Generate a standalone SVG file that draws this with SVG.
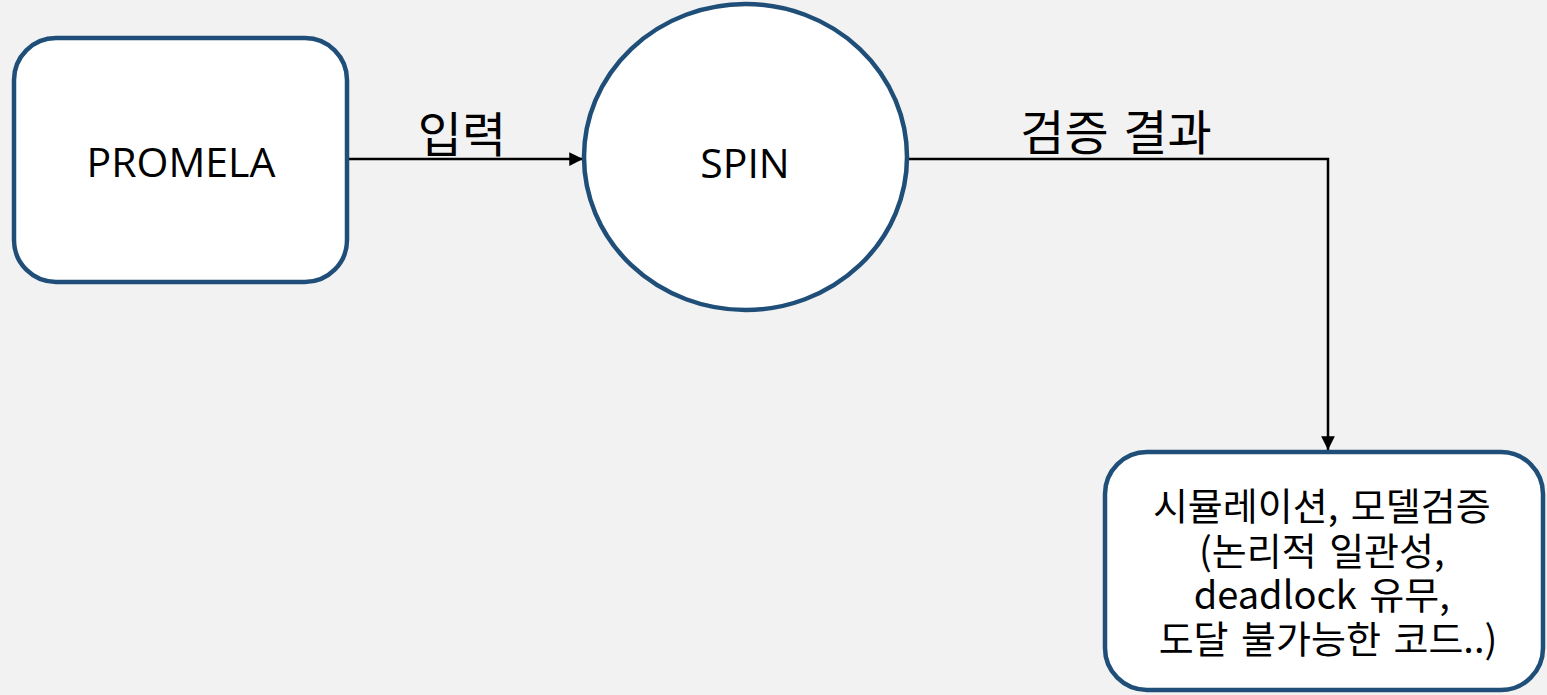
<svg xmlns="http://www.w3.org/2000/svg" width="1547" height="695" viewBox="0 0 1547 695">
<style>
.node{fill:#ffffff;stroke:#1f4e79;stroke-width:4.5}
.lbl{font-family:"Open Sans","Noto Sans CJK KR",sans-serif;fill:#000000;text-anchor:middle}
.kr{font-family:"Noto Sans CJK KR","Open Sans",sans-serif;fill:#000000;text-anchor:middle}
.edge{fill:none;stroke:#000000;stroke-width:2.5}
</style>
<defs>
<marker id="arr" viewBox="0 0 10 10" refX="10" refY="5" markerWidth="5.5" markerHeight="5.5" orient="auto" markerUnits="strokeWidth">
<path d="M0,0 L10,5 L0,10 Z" fill="#000000"/>
</marker>
</defs>
<rect width="1547" height="695" fill="#f2f2f2"/>
<g id="connectors">
<path class="edge" d="M349,159 L583,159" marker-end="url(#arr)"/>
<path class="edge" d="M909,159 L1328,159 L1328,450" marker-end="url(#arr)"/>
<text class="kr" x="462" y="152" font-size="48">입력</text>
<text class="kr" x="1116" y="150" font-size="48" word-spacing="4">검증 결과</text>
</g>
<g id="node-promela">
<rect class="node" x="14" y="38" width="333" height="244" rx="42" ry="42"/>
<text class="lbl" x="181" y="177" font-size="41">PROMELA</text>
</g>
<g id="node-spin">
<ellipse class="node" cx="745.5" cy="157" rx="161.5" ry="153"/>
<text class="lbl" x="745" y="178" font-size="41">SPIN</text>
</g>
<g id="node-result">
<rect class="node" x="1105" y="452" width="438" height="238" rx="42" ry="42"/>
<text class="kr" font-size="38" word-spacing="4">
<tspan x="1328" y="520">시뮬레이션, 모델검증</tspan>
<tspan x="1328" y="565">(논리적 일관성,</tspan>
<tspan x="1328" y="609">deadlock 유무,</tspan>
<tspan x="1328" y="653">도달 불가능한 코드..)</tspan>
</text>
</g>
</svg>
